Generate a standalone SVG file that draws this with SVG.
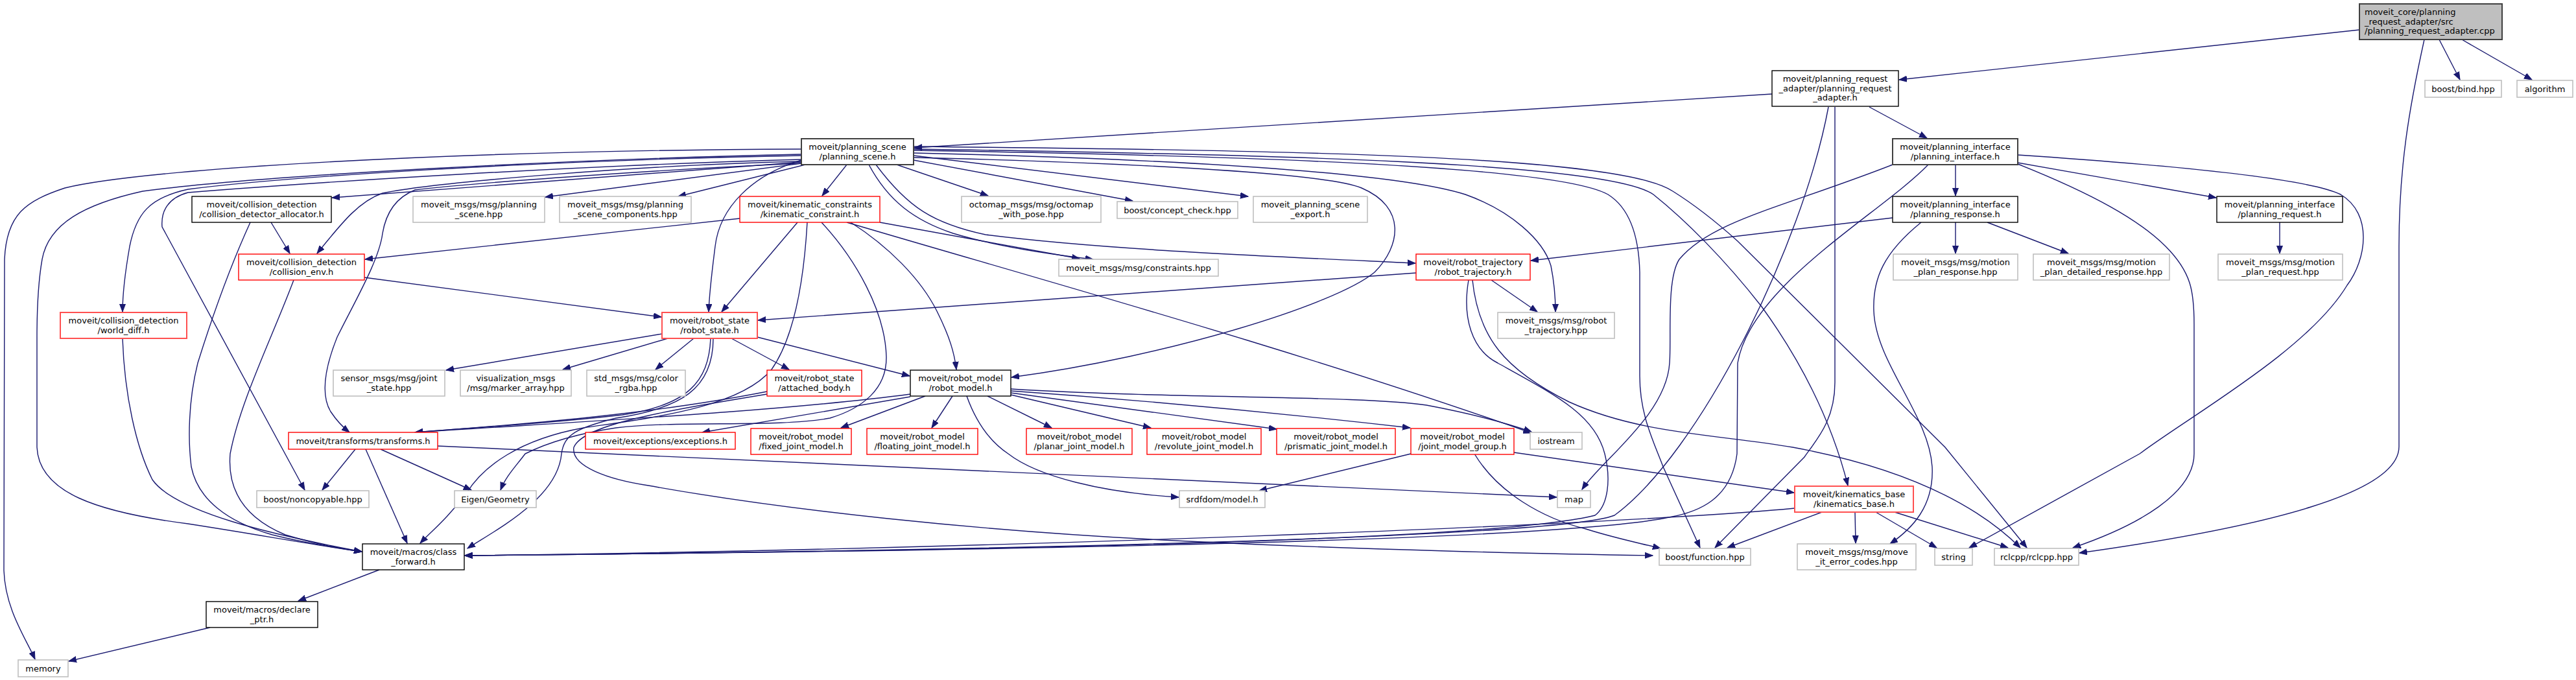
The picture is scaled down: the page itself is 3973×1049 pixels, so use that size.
<svg xmlns="http://www.w3.org/2000/svg" width="3973" height="1049" viewBox="0 0 3973 1049">
<style>
rect{fill:#fff}
.b{stroke:#000;stroke-width:1.4}
.d{stroke:#404040;stroke-width:2}
.g{stroke:#bfbfbf;stroke-width:1.6}
.r{stroke:#ff0000;stroke-width:1.4}
.s{stroke:#ff5050;stroke-width:2}
.root{fill:#bfbfbf;stroke:#404040;stroke-width:2}
text{font-family:"DejaVu Sans","Liberation Sans",sans-serif;font-size:13px;fill:#000;text-anchor:middle}
text.l{text-anchor:start}
#edges path{fill:none;stroke:#191970;stroke-width:1.4;marker-end:url(#a)}
</style>
<defs>
<marker id="a" markerWidth="13" markerHeight="10" refX="12" refY="5" orient="auto" markerUnits="userSpaceOnUse"><path d="M0,0.5 L12,5 L0,9.5 z" fill="#191970" stroke="#191970" stroke-width="1"/></marker>
</defs>
<rect x="0" y="0" width="3973" height="1049" style="fill:#fff"/>
<g id="edges">
<path d="M3639,46 L2929,123"/>
<path d="M3762,61 L3794,123"/>
<path d="M3797,61 L3905,123"/>
<path d="M3739,61 C3715,170 3700,260 3700,380 L3700,689 C3700,760 3500,812 3207,853"/>
<path d="M2733,145 L1410,228"/>
<path d="M2883,165 L2972,213"/>
<path d="M2820,165 C2780,380 2620,700 2490,795 C2400,830 1500,850 717,857"/>
<path d="M2830,165 L2830,590 C2830,650 2800,680 2783,705 L2645,845"/>
<path d="M3112,251 L3418,305"/>
<path d="M3016,254 L3016,302"/>
<path d="M2919,254 C2750,320 2640,340 2590,400 C2570,430 2578,520 2575,560 C2570,640 2470,710 2440,755"/>
<path d="M2974,254 C2900,330 2700,440 2680,560 L2679,700 C2670,770 2620,790 2574,798 C2400,835 1500,850 717,857"/>
<path d="M3112,239 C3350,255 3560,275 3610,300 C3660,330 3650,400 3620,440 C3560,540 3380,640 3300,700 L3037,845"/>
<path d="M3112,253 C3230,300 3300,340 3340,380 C3380,420 3384,450 3384,500 L3384,700 C3384,760 3300,810 3197,845"/>
<path d="M3016,343 L3016,391"/>
<path d="M3065,343 L3190,391"/>
<path d="M2919,336 L2361,402"/>
<path d="M2963,343 C2905,390 2888,430 2890,480 C2893,560 2975,640 2980,720 C2983,780 2950,815 2915,839"/>
<path d="M3516,343 L3516,391"/>
<path d="M1236,250 L512,305"/>
<path d="M1236,252 L841,304"/>
<path d="M1242,254 L1046,303"/>
<path d="M1306,254 L1268,302"/>
<path d="M1383,254 L1524,302"/>
<path d="M1409,247 L1747,310"/>
<path d="M1409,240 L1925,303"/>
<path d="M1340,254 C1370,310 1410,340 1470,360 C1530,378 1600,390 1686,400"/>
<path d="M1351,254 C1400,320 1440,345 1520,362 C1700,385 1950,395 2183,406"/>
<path d="M1236,247 C1160,270 1110,320 1103,380 C1098,420 1094,450 1093,481"/>
<path d="M1409,243 C1700,250 2040,265 2100,290 C2170,320 2160,380 2120,420 C2060,470 1800,550 1560,582"/>
<path d="M1409,236 C1800,245 2150,265 2260,300 C2330,325 2380,370 2392,410 C2398,440 2399,460 2399,481"/>
<path d="M1409,232 C1900,240 2400,255 2480,300 C2520,325 2528,380 2529,420 L2529,580 C2529,640 2550,680 2565,720 L2622,845"/>
<path d="M1409,230 C1950,238 2480,250 2550,300 C2600,340 2660,400 2717,473 C2780,560 2825,650 2850,749"/>
<path d="M1409,226 C2000,232 2500,240 2580,295 C2620,320 2650,345 2680,372 L3000,690 L3126,845"/>
<path d="M1236,238 C900,245 400,270 220,295 C130,315 75,345 65,400 C58,440 57,480 57,520 L57,690 C60,760 150,790 290,808 C400,825 480,840 558,851"/>
<path d="M1236,230 C700,232 220,260 100,290 C40,310 10,330 7,400 L6,880 C8,940 40,985 54,1017"/>
<path d="M1236,240 C800,248 420,275 290,292 C230,305 210,330 200,380 C193,420 189,450 189,481"/>
<path d="M1236,246 C900,255 500,280 290,297 C260,305 248,325 250,350 L470,756"/>
<path d="M1236,249 C1000,254 680,280 590,298 C555,310 530,340 489,391"/>
<path d="M1236,252 C1000,262 700,285 640,293 C610,305 595,330 590,360 C585,400 550,460 520,520 C500,570 495,610 510,635 C520,650 530,660 539,667"/>
<path d="M418,343 L447,391"/>
<path d="M386,343 C360,400 330,480 305,560 C290,620 290,680 295,720 C305,770 350,805 420,825 C480,840 520,845 558,851"/>
<path d="M453,432 C420,520 370,620 355,700 C350,760 380,800 440,825 C490,840 520,845 558,851"/>
<path d="M189,522 C192,610 210,690 235,740 C270,790 420,825 558,851"/>
<path d="M562,428 L1020,489"/>
<path d="M1141,337 L563,400"/>
<path d="M1230,343 L1113,481"/>
<path d="M1312,343 C1370,380 1420,430 1445,480 C1465,520 1472,545 1475,570"/>
<path d="M1357,343 L1665,399"/>
<path d="M1306,343 C1600,430 2000,540 2362,668"/>
<path d="M1245,343 C1240,430 1225,520 1190,570 C1140,630 1000,645 900,660 C800,678 745,720 720,760 C690,800 665,820 648,838"/>
<path d="M1267,343 C1320,400 1365,480 1367,550 C1368,600 1330,630 1280,645 C1200,660 1050,648 950,660 C870,672 830,690 810,700 C795,720 780,735 772,756"/>
<path d="M1021,515 L688,571"/>
<path d="M1030,522 L868,570"/>
<path d="M1070,522 L1011,570"/>
<path d="M1128,522 L1217,570"/>
<path d="M1168,520 L1403,580"/>
<path d="M1096,522 C1093,590 1060,625 960,640 C830,655 720,660 640,667"/>
<path d="M1100,522 C1100,600 1050,630 950,645 C890,660 870,670 866,700 C860,770 760,820 721,846"/>
<path d="M1183,604 C1000,640 800,655 640,667"/>
<path d="M1183,608 C1020,635 900,655 885,690 C880,720 940,740 1000,749 C1200,785 1500,820 1855,836 C2100,848 2400,855 2549,857"/>
<path d="M1404,608 C1200,635 900,650 640,667"/>
<path d="M1404,612 L1083,667"/>
<path d="M1427,611 L1297,660"/>
<path d="M1469,611 L1437,660"/>
<path d="M1523,611 L1622,660"/>
<path d="M1559,609 L1775,660"/>
<path d="M1559,606 L1969,662"/>
<path d="M1491,611 C1505,650 1525,680 1555,700 C1600,735 1700,760 1818,767"/>
<path d="M1559,603 C1800,620 2000,640 2175,660"/>
<path d="M1559,600 C1800,615 2100,610 2200,625 C2280,640 2330,655 2362,666"/>
<path d="M548,693 L497,756"/>
<path d="M564,693 L628,838"/>
<path d="M587,693 L727,756"/>
<path d="M675,688 L2401,767"/>
<path d="M2335,698 L2767,760"/>
<path d="M2274,700 C2310,760 2380,800 2446,816 C2490,830 2530,838 2561,846"/>
<path d="M2176,700 L1942,757"/>
<path d="M2184,421 L1169,494"/>
<path d="M2300,432 L2371,481"/>
<path d="M2265,432 C2255,490 2270,540 2310,560 C2400,610 2460,640 2475,700 C2485,740 2480,780 2460,795 C2300,835 1500,850 717,857"/>
<path d="M2271,432 C2280,520 2320,570 2420,620 C2530,670 2650,670 2765,690 C2900,715 3030,760 3116,845"/>
<path d="M2768,784 C2500,810 1500,848 717,857"/>
<path d="M2810,790 L2664,845"/>
<path d="M2861,790 L2862,838"/>
<path d="M2893,790 L2987,845"/>
<path d="M2922,790 L3097,845"/>
<path d="M585,879 L460,927"/>
<path d="M324,968 L106,1020"/>
</g>
<g id="n_cpp"><rect class="root" x="3639" y="6" width="220" height="55"/><text class="l" x="3647" y="23">moveit_core/planning</text><text class="l" x="3647" y="37.7">_request_adapter/src</text><text class="l" x="3647" y="52.3">/planning_request_adapter.cpp</text></g>
<g id="n_pra"><rect class="b" x="2733" y="109" width="195" height="55"/><text x="2830.5" y="126">moveit/planning_request</text><text x="2830.5" y="140.7">_adapter/planning_request</text><text x="2830.5" y="155.3">_adapter.h</text></g>
<g id="n_bind"><rect class="g" x="3740" y="124" width="118" height="26"/><text x="3799" y="141.5">boost/bind.hpp</text></g>
<g id="n_algorithm"><rect class="g" x="3882" y="124" width="86" height="26"/><text x="3925" y="141.5">algorithm</text></g>
<g id="n_planning_scene"><rect class="d" x="1236" y="214" width="173" height="40"/><text x="1322.5" y="231">moveit/planning_scene</text><text x="1322.5" y="245.7">/planning_scene.h</text></g>
<g id="n_planning_interface"><rect class="d" x="2919" y="214" width="193" height="40"/><text x="3015.5" y="231">moveit/planning_interface</text><text x="3015.5" y="245.7">/planning_interface.h</text></g>
<g id="n_allocator"><rect class="b" x="296" y="303" width="215" height="40"/><text x="403.5" y="320">moveit/collision_detection</text><text x="403.5" y="334.7">/collision_detector_allocator.h</text></g>
<g id="n_ps_hpp"><rect class="g" x="637" y="303" width="203" height="40"/><text x="738.5" y="320">moveit_msgs/msg/planning</text><text x="738.5" y="334.7">_scene.hpp</text></g>
<g id="n_components"><rect class="g" x="863" y="303" width="203" height="40"/><text x="964.5" y="320">moveit_msgs/msg/planning</text><text x="964.5" y="334.7">_scene_components.hpp</text></g>
<g id="n_kinematic_constraint"><rect class="r" x="1141" y="303" width="216" height="40"/><text x="1249" y="320">moveit/kinematic_constraints</text><text x="1249" y="334.7">/kinematic_constraint.h</text></g>
<g id="n_octomap"><rect class="g" x="1483" y="303" width="215" height="40"/><text x="1590.5" y="320">octomap_msgs/msg/octomap</text><text x="1590.5" y="334.7">_with_pose.hpp</text></g>
<g id="n_concept"><rect class="g" x="1723" y="311" width="186" height="26"/><text x="1816" y="328.5">boost/concept_check.hpp</text></g>
<g id="n_export"><rect class="g" x="1933" y="303" width="176" height="40"/><text x="2021" y="320">moveit_planning_scene</text><text x="2021" y="334.7">_export.h</text></g>
<g id="n_planning_response"><rect class="b" x="2919" y="303" width="193" height="40"/><text x="3015.5" y="320">moveit/planning_interface</text><text x="3015.5" y="334.7">/planning_response.h</text></g>
<g id="n_planning_request"><rect class="b" x="3419" y="303" width="194" height="40"/><text x="3516" y="320">moveit/planning_interface</text><text x="3516" y="334.7">/planning_request.h</text></g>
<g id="n_collision_env"><rect class="r" x="368" y="392" width="194" height="40"/><text x="465" y="409">moveit/collision_detection</text><text x="465" y="423.7">/collision_env.h</text></g>
<g id="n_constraints"><rect class="g" x="1633" y="400" width="246" height="26"/><text x="1756" y="417.5">moveit_msgs/msg/constraints.hpp</text></g>
<g id="n_robot_trajectory_h"><rect class="r" x="2184" y="392" width="176" height="40"/><text x="2272" y="409">moveit/robot_trajectory</text><text x="2272" y="423.7">/robot_trajectory.h</text></g>
<g id="n_mp_response"><rect class="g" x="2920" y="392" width="192" height="40"/><text x="3016" y="409">moveit_msgs/msg/motion</text><text x="3016" y="423.7">_plan_response.hpp</text></g>
<g id="n_mp_detailed"><rect class="g" x="3136" y="392" width="210" height="40"/><text x="3241" y="409">moveit_msgs/msg/motion</text><text x="3241" y="423.7">_plan_detailed_response.hpp</text></g>
<g id="n_mp_request"><rect class="g" x="3421" y="392" width="192" height="40"/><text x="3517" y="409">moveit_msgs/msg/motion</text><text x="3517" y="423.7">_plan_request.hpp</text></g>
<g id="n_world_diff"><rect class="s" x="93" y="482" width="195" height="40"/><text x="190.5" y="499">moveit/collision_detection</text><text x="190.5" y="513.7">/world_diff.h</text></g>
<g id="n_robot_state"><rect class="s" x="1021" y="482" width="147" height="40"/><text x="1094.5" y="499">moveit/robot_state</text><text x="1094.5" y="513.7">/robot_state.h</text></g>
<g id="n_robot_traj_hpp"><rect class="g" x="2310" y="482" width="180" height="40"/><text x="2400" y="499">moveit_msgs/msg/robot</text><text x="2400" y="513.7">_trajectory.hpp</text></g>
<g id="n_joint_state"><rect class="g" x="514" y="571" width="172" height="40"/><text x="600" y="588">sensor_msgs/msg/joint</text><text x="600" y="602.7">_state.hpp</text></g>
<g id="n_marker_array"><rect class="g" x="710" y="571" width="171" height="40"/><text x="795.5" y="588">visualization_msgs</text><text x="795.5" y="602.7">/msg/marker_array.hpp</text></g>
<g id="n_color_rgba"><rect class="g" x="905" y="571" width="152" height="40"/><text x="981" y="588">std_msgs/msg/color</text><text x="981" y="602.7">_rgba.hpp</text></g>
<g id="n_attached_body"><rect class="r" x="1183" y="571" width="146" height="40"/><text x="1256" y="588">moveit/robot_state</text><text x="1256" y="602.7">/attached_body.h</text></g>
<g id="n_robot_model"><rect class="b" x="1404" y="571" width="155" height="40"/><text x="1481.5" y="588">moveit/robot_model</text><text x="1481.5" y="602.7">/robot_model.h</text></g>
<g id="n_transforms"><rect class="r" x="445" y="667" width="230" height="26"/><text x="560" y="684.5">moveit/transforms/transforms.h</text></g>
<g id="n_exceptions"><rect class="r" x="903" y="667" width="231" height="26"/><text x="1018.5" y="684.5">moveit/exceptions/exceptions.h</text></g>
<g id="n_fixed"><rect class="r" x="1158" y="661" width="155" height="40"/><text x="1235.5" y="678">moveit/robot_model</text><text x="1235.5" y="692.7">/fixed_joint_model.h</text></g>
<g id="n_floating"><rect class="r" x="1337" y="661" width="171" height="40"/><text x="1422.5" y="678">moveit/robot_model</text><text x="1422.5" y="692.7">/floating_joint_model.h</text></g>
<g id="n_planar"><rect class="r" x="1583" y="661" width="163" height="40"/><text x="1664.5" y="678">moveit/robot_model</text><text x="1664.5" y="692.7">/planar_joint_model.h</text></g>
<g id="n_revolute"><rect class="r" x="1769" y="661" width="176" height="40"/><text x="1857" y="678">moveit/robot_model</text><text x="1857" y="692.7">/revolute_joint_model.h</text></g>
<g id="n_prismatic"><rect class="r" x="1969" y="661" width="183" height="40"/><text x="2060.5" y="678">moveit/robot_model</text><text x="2060.5" y="692.7">/prismatic_joint_model.h</text></g>
<g id="n_jmg"><rect class="r" x="2176" y="661" width="159" height="40"/><text x="2255.5" y="678">moveit/robot_model</text><text x="2255.5" y="692.7">/joint_model_group.h</text></g>
<g id="n_iostream"><rect class="g" x="2360" y="667" width="80" height="26"/><text x="2400" y="684.5">iostream</text></g>
<g id="n_noncopyable"><rect class="g" x="396" y="757" width="173" height="26"/><text x="482.5" y="774.5">boost/noncopyable.hpp</text></g>
<g id="n_eigen"><rect class="g" x="701" y="757" width="126" height="26"/><text x="764" y="774.5">Eigen/Geometry</text></g>
<g id="n_srdfdom"><rect class="g" x="1819" y="757" width="132" height="26"/><text x="1885" y="774.5">srdfdom/model.h</text></g>
<g id="n_map"><rect class="g" x="2402" y="757" width="51" height="26"/><text x="2427.5" y="774.5">map</text></g>
<g id="n_kinematics_base"><rect class="s" x="2768" y="750" width="183" height="40"/><text x="2859.5" y="767">moveit/kinematics_base</text><text x="2859.5" y="781.7">/kinematics_base.h</text></g>
<g id="n_class_forward"><rect class="b" x="559" y="839" width="157" height="40"/><text x="637.5" y="856">moveit/macros/class</text><text x="637.5" y="870.7">_forward.h</text></g>
<g id="n_function"><rect class="g" x="2559" y="846" width="141" height="26"/><text x="2629.5" y="863.5">boost/function.hpp</text></g>
<g id="n_error_codes"><rect class="g" x="2772" y="839" width="183" height="40"/><text x="2863.5" y="856">moveit_msgs/msg/move</text><text x="2863.5" y="870.7">_it_error_codes.hpp</text></g>
<g id="n_string"><rect class="g" x="2984" y="846" width="58" height="26"/><text x="3013" y="863.5">string</text></g>
<g id="n_rclcpp"><rect class="g" x="3076" y="846" width="130" height="26"/><text x="3141" y="863.5">rclcpp/rclcpp.hpp</text></g>
<g id="n_declare_ptr"><rect class="b" x="318" y="928" width="172" height="40"/><text x="404" y="945">moveit/macros/declare</text><text x="404" y="959.7">_ptr.h</text></g>
<g id="n_memory"><rect class="g" x="28" y="1018" width="77" height="26"/><text x="66.5" y="1035.5">memory</text></g>
</svg>
